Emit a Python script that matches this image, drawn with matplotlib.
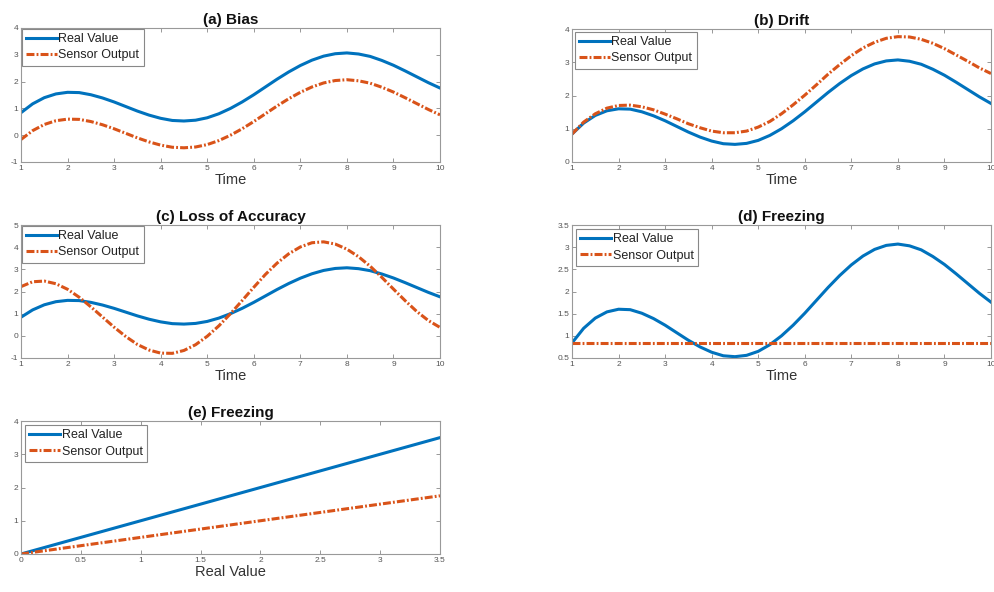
import matplotlib
matplotlib.use("Agg")
import matplotlib.pyplot as plt
from matplotlib.ticker import FormatStrFormatter

plt.rcParams['font.family'] = ['Liberation Sans', 'DejaVu Sans']

BLUE = '#0072BD'
ORANGE = '#D95319'

# time axis, 1..10 in steps of 0.25
t = [1.00, 1.25, 1.50, 1.75, 2.00, 2.25, 2.50, 2.75, 3.00, 3.25, 3.50, 3.75,
     4.00, 4.25, 4.50, 4.75, 5.00, 5.25, 5.50, 5.75, 6.00, 6.25, 6.50, 6.75,
     7.00, 7.25, 7.50, 7.75, 8.00, 8.25, 8.50, 8.75, 9.00, 9.25, 9.50, 9.75,
     10.00]

real = [0.84, 1.17, 1.40, 1.54, 1.60, 1.59, 1.51, 1.39, 1.24, 1.07, 0.90, 0.75,
        0.63, 0.55, 0.53, 0.56, 0.65, 0.80, 1.00, 1.24, 1.51, 1.80, 2.09, 2.36,
        2.60, 2.80, 2.95, 3.04, 3.07, 3.03, 2.94, 2.79, 2.61, 2.40, 2.18, 1.96,
        1.76]

bias = [-0.16, 0.17, 0.40, 0.54, 0.60, 0.59, 0.51, 0.39, 0.24, 0.07, -0.10, -0.25,
        -0.37, -0.45, -0.47, -0.44, -0.35, -0.20, 0.00, 0.24, 0.51, 0.80, 1.09, 1.36,
        1.60, 1.80, 1.95, 2.04, 2.07, 2.03, 1.94, 1.79, 1.61, 1.40, 1.18, 0.96,
        0.76]

drift = [0.84, 1.20, 1.45, 1.62, 1.70, 1.71, 1.66, 1.57, 1.44, 1.30, 1.15, 1.03,
         0.93, 0.88, 0.88, 0.93, 1.05, 1.22, 1.45, 1.72, 2.01, 2.32, 2.64, 2.93,
         3.20, 3.43, 3.60, 3.72, 3.77, 3.76, 3.69, 3.57, 3.41, 3.22, 3.03, 2.83,
         2.66]

accuracy = [2.22, 2.44, 2.47, 2.35, 2.10, 1.74, 1.31, 0.85, 0.39, -0.03, -0.39, -0.64,
            -0.78, -0.79, -0.66, -0.40, -0.02, 0.45, 1.00, 1.59, 2.19, 2.77, 3.28, 3.70,
            4.01, 4.20, 4.24, 4.14, 3.91, 3.57, 3.14, 2.64, 2.11, 1.59, 1.10, 0.69,
            0.38]

frozen = [0.84] * len(t)

# panel (e): sensor output against real value
rv = [0.0, 3.5]
rv_real = [0.0, 3.5]
rv_sensor = [0.0, 1.75]

W, H = 994, 592
fig = plt.figure(figsize=(W / 100, H / 100), dpi=100)


def make_axes(l, r, top, bot):
    return fig.add_axes([l / W, 1 - bot / H, (r - l) / W, (bot - top) / H])


def style(ax, title, xlabel, xlim, ylim, xticks, yticks, legpad):
    ax.set_title(title, fontsize=11, fontweight='bold', pad=3, color='#111111')
    ax.set_xlabel(xlabel, fontsize=10.5, color='#333333', labelpad=1)
    ax.set_xlim(xlim)
    ax.set_ylim(ylim)
    ax.set_xticks(xticks)
    ax.set_yticks(yticks)
    ax.xaxis.set_major_formatter(FormatStrFormatter('%g'))
    ax.yaxis.set_major_formatter(FormatStrFormatter('%g'))
    ax.tick_params(direction='in', length=3, width=0.6, labelsize=6,
                   colors='#888888', labelcolor='#555555', pad=2,
                   top=True, right=True)
    for s in ax.spines.values():
        s.set_color('#999999')
        s.set_linewidth(0.8)
    leg = ax.legend(loc='upper left', fontsize=9, fancybox=False,
                    framealpha=1, edgecolor='#888888', borderpad=0.35,
                    labelspacing=0.35, handletextpad=0.1, handlelength=2.5,
                    borderaxespad=legpad)
    leg.get_frame().set_linewidth(0.8)
    for txt in leg.get_texts():
        txt.set_color('#222222')


def draw(ax, x, a, b):
    ax.plot(x, a, color=BLUE, lw=2.2, label='Real Value')
    ax.plot(x, b, color=ORANGE, lw=2.2, dashes=(2.6, 0.7, 0.6, 0.7),
            label='Sensor Output')


tticks = list(range(1, 11))

ax = make_axes(21, 440, 28, 162)
draw(ax, t, real, bias)
style(ax, '(a) Bias', 'Time', (1, 10), (-1, 4), tticks, range(-1, 5), 0.05)

ax = make_axes(572, 991, 29, 162)
draw(ax, t, real, drift)
style(ax, '(b) Drift', 'Time', (1, 10), (0, 4), tticks, range(0, 5), 0.2)

ax = make_axes(21, 440, 225, 358)
draw(ax, t, real, accuracy)
style(ax, '(c) Loss of Accuracy', 'Time', (1, 10), (-1, 5), tticks, range(-1, 6), 0.05)

ax = make_axes(572, 991, 225, 358)
draw(ax, t, real, frozen)
style(ax, '(d) Freezing', 'Time', (1, 10), (0.5, 3.5), tticks,
      [0.5, 1, 1.5, 2, 2.5, 3, 3.5], 0.3)

ax = make_axes(21, 440, 421, 554)
draw(ax, rv, rv_real, rv_sensor)
style(ax, '(e) Freezing', 'Real Value', (0, 3.5), (0, 4),
      [0, 0.5, 1, 1.5, 2, 2.5, 3, 3.5], range(0, 5), 0.3)

fig.savefig('out.png', dpi=100)
